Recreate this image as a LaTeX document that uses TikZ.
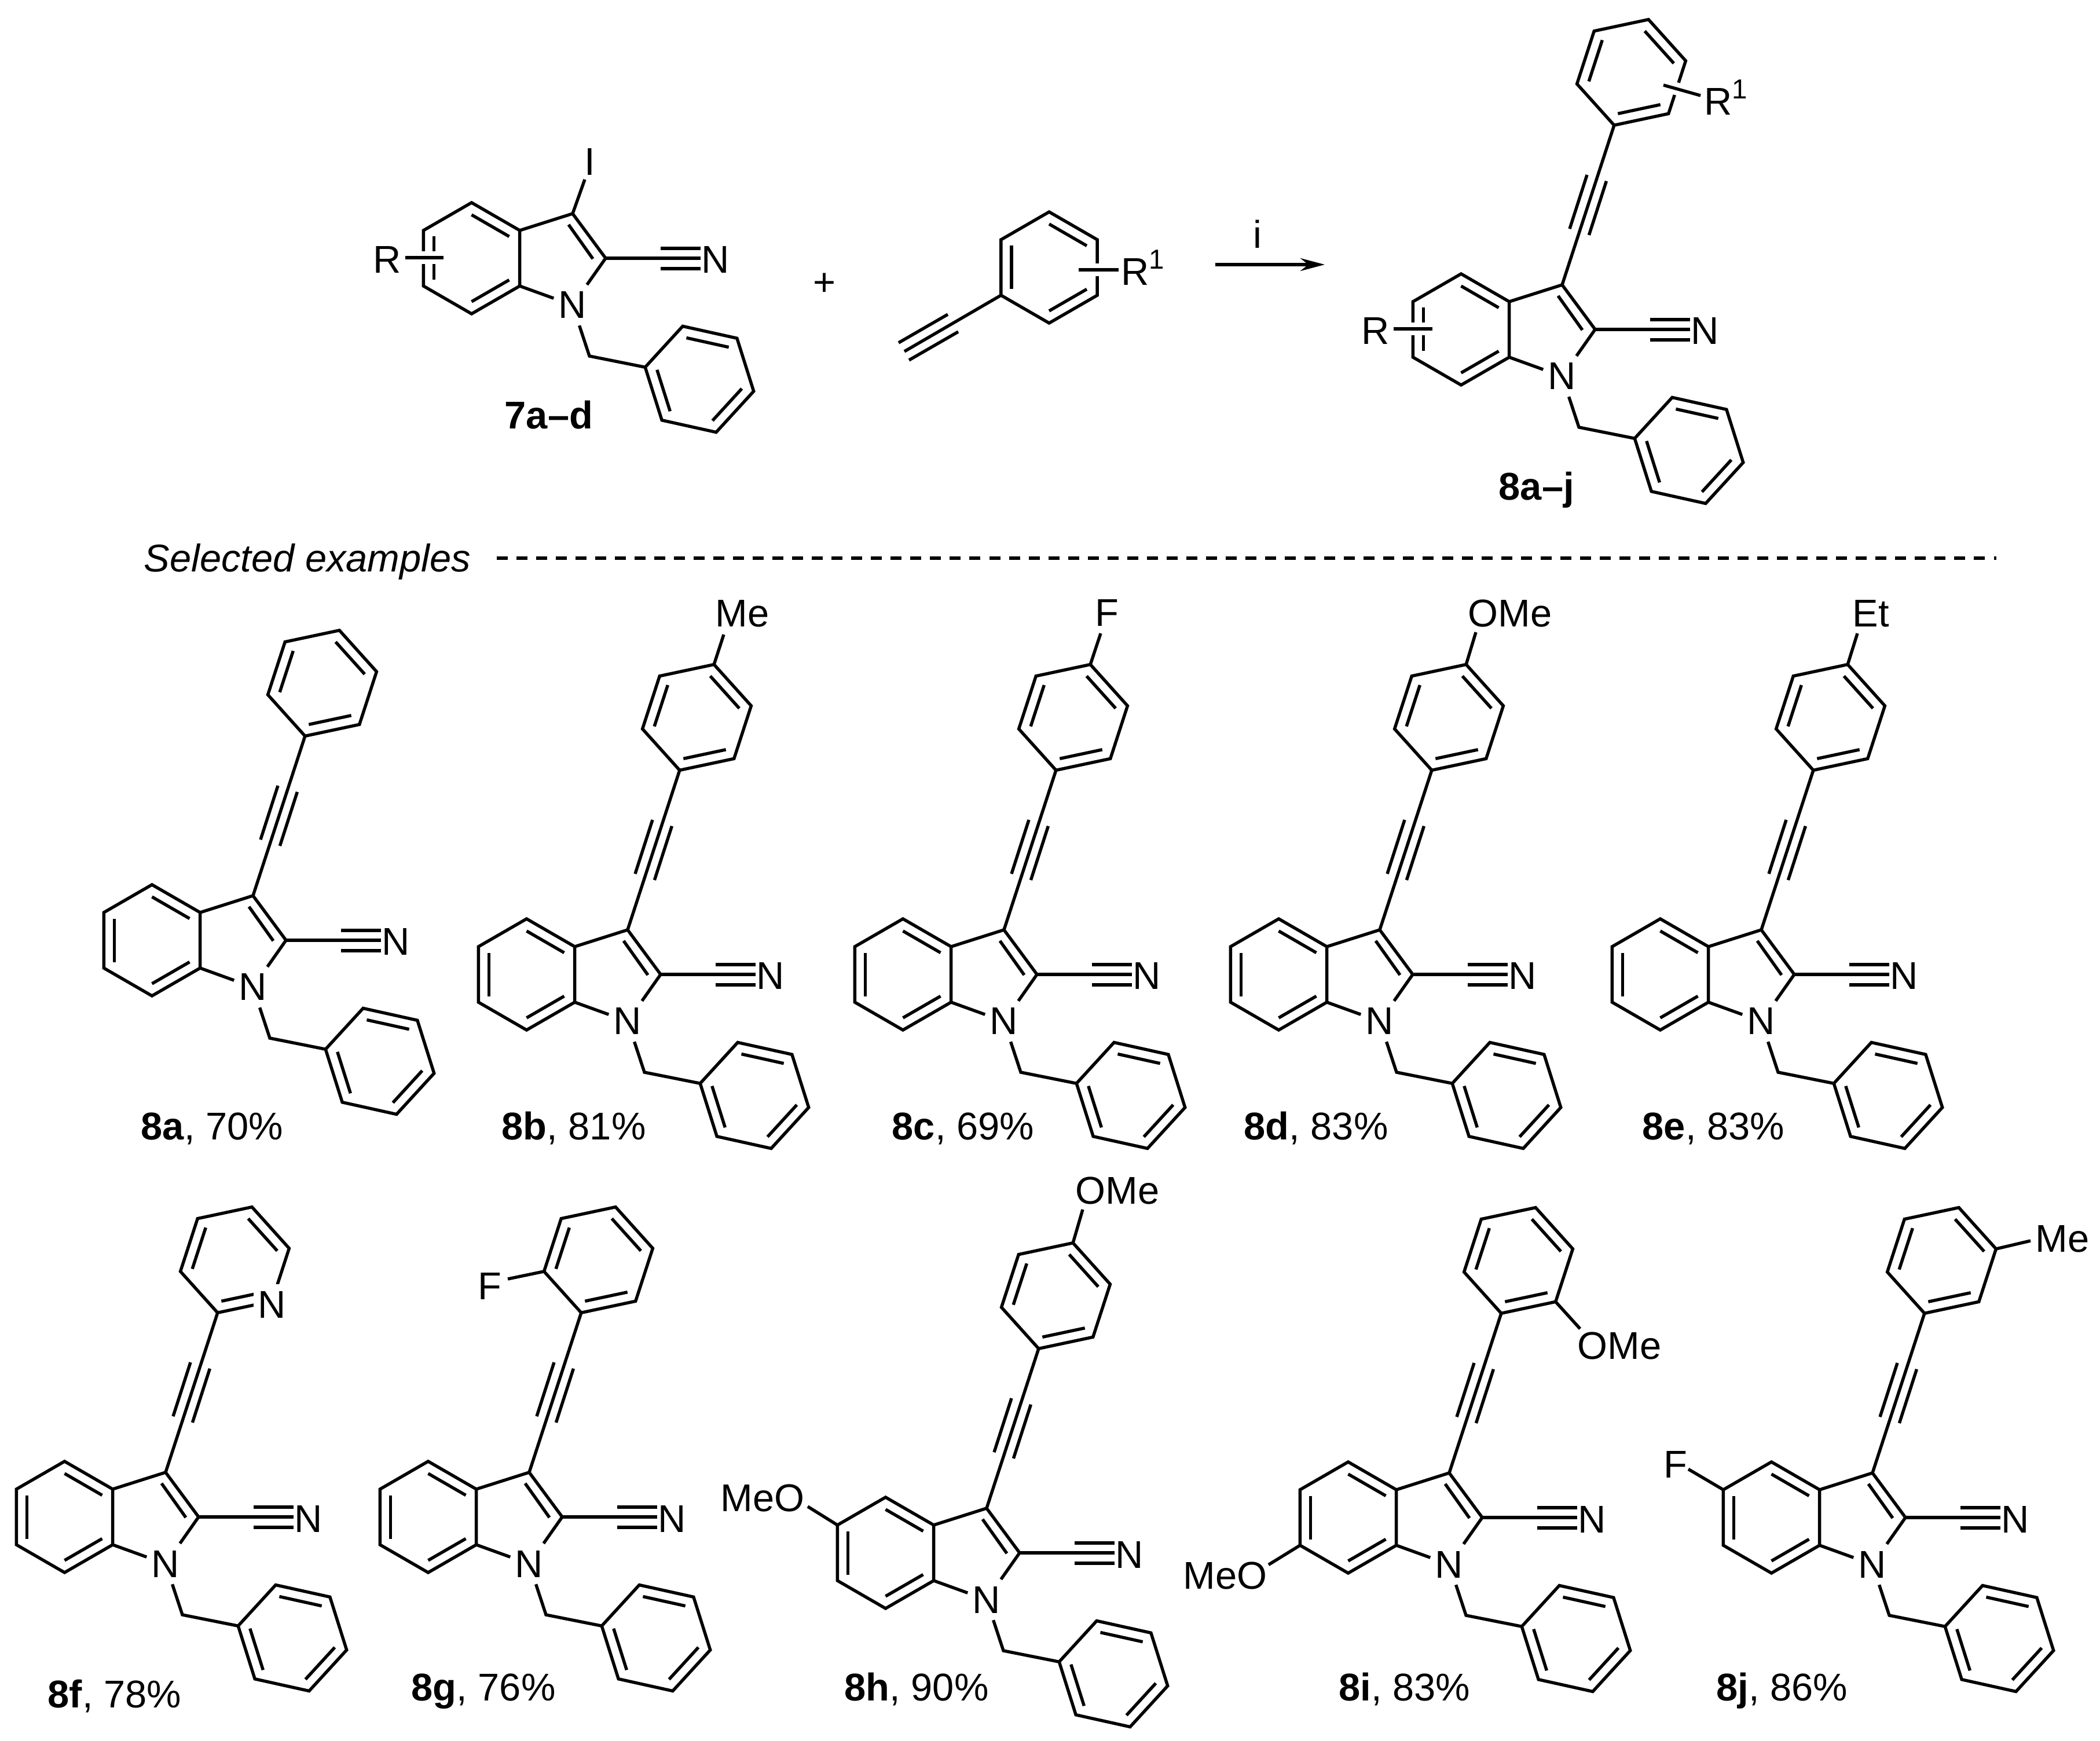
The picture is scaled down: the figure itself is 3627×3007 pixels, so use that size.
\documentclass[tikz,border=0pt]{standalone}
\usepackage{fontspec}
\setmainfont{Liberation Sans}
\usetikzlibrary{arrows.meta}
\newcommand{\chemfont}{\fontsize{19pt}{21pt}\selectfont}
\newcommand{\Rsup}{R\raisebox{0.28cm}{\fontsize{13.5pt}{14pt}\selectfont 1}}
\tikzset{
  bond/.style={line width=0.054cm},
  crossbond/.style={bond,preaction={draw=white,line width=0.22cm}},
  atom/.style={font=\chemfont,minimum width=0.64cm,minimum height=0.69cm,inner sep=0pt},
  textlabel/.style={font=\chemfont,anchor=base west,inner sep=0pt}
}
\newcommand{\hexring}[3]{
  \begin{scope}[shift={#2}]
    \foreach \k in {1,...,6}
      \coordinate (#1\k) at (#3+60*\k-60:96);
    \draw[bond] (#11) -- (#12) -- (#13) -- (#14) -- (#15) -- (#16) -- cycle;
    \foreach \k in {2,4,6}
      \draw[bond] (#3+60*\k-60:75) -- (#3+60*\k:75);
  \end{scope}
}
\newcommand{\indolecore}[1]{
  \hexring{#1b}{(-83.5,48)}{-30}
  \coordinate (#1c3) at (91,-29);
  \coordinate (#1c2) at (148,48);
  \coordinate (#1ch) at (120,217);
  \coordinate (#1ct) at (312,48);
  \node[atom] (#1n) at (91,129) {N};
  \node[atom] (#1cn) at (338,51) {N};
  \hexring{#1bn}{(310,257)}{192.5}
  \draw[bond] (#1b1) -- (#1c3) -- (#1c2) -- (#1n);
  \draw[bond] (#1b2) -- (#1n);
  \draw[bond] (84,-10) -- (126,49);
  \draw[bond] (#1n) -- (#1ch) -- (#1bn1);
  \draw[bond] (#1c2) -- (#1ct);
  \draw[bond] (243,31) -- (312,31);
  \draw[bond] (243,66) -- (312,66);
}
\newcommand{\arylyne}[1]{
  \hexring{#1ar}{(210.5,-396)}{108}
  \draw[bond] (#1c3) -- (#1ar1);
  \draw[bond] (137.4,-115) -- (167.4,-208.2);
  \draw[bond] (104,-125.8) -- (134,-219);
}
\begin{document}
\begin{tikzpicture}[x=0.01cm,y=-0.01cm]
  \useasboundingbox (0,0) rectangle (3627,3007);

  \begin{scope}[shift={(898,398)}]
    \indolecore{sm}
  \end{scope}
  \coordinate (smie) at (1010,310);
  \node[atom] (smi) at (1019,280) {I};
  \draw[bond] (smc3) -- (smie);
  \coordinate (smra) at (700,445);
  \coordinate (smrb) at (766,445);
  \node[atom] (smr) at (669,449) {R};
  \draw[crossbond] (smra) -- (smrb);
  \node[textlabel,font=\chemfont\bfseries] (smlabel) at (871,741) {7a–d};

  \node[atom] (plus) at (1424,491) {+};

  \hexring{ag}{(1812,462)}{90}
  \coordinate (agend) at (1562,607);
  \draw[bond] (ag2) -- (agend);
  \draw[bond] (1655,573) -- (1570,622);
  \draw[bond] (1637,543) -- (1552,592);
  \coordinate (agra) at (1863,466);
  \coordinate (agrb) at (1932,466);
  \draw[crossbond] (agra) -- (agrb);
  \node[textlabel] (agr) at (1936,493) {\Rsup};

  \coordinate (arra) at (2099,457);
  \coordinate (arrb) at (2288,457);
  \draw[bond,-{Stealth[length=0.42cm,width=0.22cm]}] (arra) -- (arrb);
  \node[atom] (cond) at (2172,404) {i};

  \begin{scope}[shift={(2607,521)}]
    \indolecore{p}
    \arylyne{p}
  \end{scope}
  \coordinate (pra) at (2407,568);
  \coordinate (prb) at (2474,568);
  \node[atom] (pr) at (2376,572) {R};
  \draw[crossbond] (pra) -- (prb);
  \coordinate (psa) at (2873,147);
  \coordinate (psb) at (2937,165);
  \draw[crossbond] (psa) -- (psb);
  \node[textlabel] (ps) at (2943,199) {\Rsup};
  \node[textlabel,font=\chemfont\bfseries] (plabel) at (2588,864) {8a–j};

  \node[textlabel,font=\chemfont\itshape] (sel) at (248,988) {Selected examples};
  \coordinate (dasha) at (858,964);
  \coordinate (dashb) at (3448,964);
  \draw[bond,dash pattern=on 0.19cm off 0.15cm] (dasha) -- (dashb);

  \foreach \mol/\px/\py in {a/346/1576,b/993/1635,c/1643/1635,d/2292/1635,e/2951/1635,
      f/195/2572,g/823/2572,h/1613/2634,i/2412/2573,j/3143/2573} {
    \begin{scope}[shift={(\px,\py)}]
      \indolecore{\mol}
      \arylyne{\mol}
    \end{scope}
  }

  \foreach \mol/\lx/\ly/\yld in {8a/243/1968/70,8b/866/1968/81,8c/1540/1968/69,
      8d/2148/1968/83,8e/2836/1968/83,8f/82/2949/78,8g/710/2937/76,
      8h/1458/2937/90,8i/2312/2937/83,8j/2964/2937/86} {
    \node[textlabel] (lab\mol) at (\lx,\ly) {\textbf{\mol}, \yld\%};
  }

  \coordinate (bme) at (1250,1096);
  \node[atom] (bsub) at (1282,1060) {Me};
  \draw[bond] (bar4) -- (bme);
  \coordinate (cfe) at (1901,1094);
  \node[atom] (csub) at (1912,1059) {F};
  \draw[bond] (car4) -- (cfe);
  \coordinate (dome) at (2549,1092);
  \node[atom] (dsub) at (2608,1059) {OMe};
  \draw[bond] (dar4) -- (dome);
  \coordinate (eete) at (3208,1094);
  \node[atom] (esub) at (3231,1060) {Et};
  \draw[bond] (ear4) -- (eete);

  \node[atom,fill=white] (fn) at (470,2253) {N};

  \coordinate (gfe) at (877,2209);
  \node[atom] (gsub) at (846,2221) {F};
  \draw[bond] (gar2) -- (gfe);

  \coordinate (home) at (1870,2089);
  \node[atom] (hsub) at (1930,2056) {OMe};
  \draw[bond] (har4) -- (home);
  \coordinate (hmeo) at (1395,2602);
  \node[atom] (hsubb) at (1317,2587) {MeO};
  \draw[bond] (hb5) -- (hmeo);

  \coordinate (iome) at (2729,2295);
  \node[atom] (isub) at (2797,2324) {OMe};
  \draw[bond] (iar6) -- (iome);
  \coordinate (imeo) at (2191,2702.5);
  \node[atom] (isubb) at (2116,2721) {MeO};
  \draw[bond] (ib4) -- (imeo);

  \coordinate (jme) at (3507,2143);
  \node[atom] (jsub) at (3562,2140) {Me};
  \draw[bond] (jar5) -- (jme);
  \coordinate (jfe) at (2916,2537.5);
  \node[atom] (jsubb) at (2894,2529) {F};
  \draw[bond] (jb5) -- (jfe);
\end{tikzpicture}
\end{document}
